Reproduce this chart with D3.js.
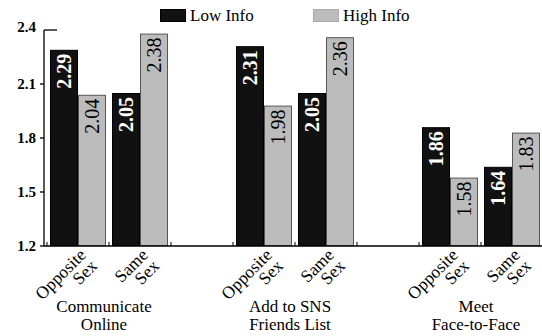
<!DOCTYPE html>
<html><head><meta charset="utf-8">
<script src="https://cdn.jsdelivr.net/npm/d3@7"></script>
<style>
html,body{margin:0;padding:0;background:#fff;}
svg{display:block;}
text{font-family:"Liberation Serif","Times New Roman",Times,serif;}
</style></head>
<body><svg id="chart" width="542" height="336"></svg>
<script>
const groups = [["Communicate","Online"],["Add to SNS","Friends List"],["Meet","Face-to-Face"]];
const subgroups = [["Opposite","Sex"],["Same","Sex"]];
const series = ["Low Info","High Info"];
const lowInfo  = [2.29, 2.05, 2.31, 2.05, 1.86, 1.64];
const highInfo = [2.04, 2.38, 1.98, 2.36, 1.58, 1.83];
const yTicks = [1.2, 1.5, 1.8, 2.1, 2.4];
const colors = ["#111111", "#bcbcbc"];
const strokes = ["#000000", "#555555"];

const svg = d3.select("#chart");
const y = d3.scaleLinear().domain([1.2, 2.4]).range([246, 30]);

// slots: 2 subgroups per group + 1 blank between groups
const slots = [];
groups.forEach((g, gi) => {
  subgroups.forEach((s, si) => slots.push("g" + gi + "s" + si));
  if (gi < groups.length - 1) slots.push("gap" + gi);
});
const x = d3.scaleBand().domain(slots).range([47, 543]).padding(0);
const x1 = d3.scaleBand().domain(series).range([3, x.bandwidth() - 3]).padding(0);

// data rows
const rows = [];
groups.forEach((g, gi) => subgroups.forEach((s, si) => {
  const i = gi * subgroups.length + si;
  rows.push({slot: "g" + gi + "s" + si, vals: [lowInfo[i], highInfo[i]]});
}));

// bars
rows.forEach(r => {
  r.vals.forEach((v, k) => {
    const bx = x(r.slot) + x1(series[k]);
    svg.append("rect")
      .attr("x", bx + 0.5).attr("y", y(v) + 0.5)
      .attr("width", x1.bandwidth() - 1).attr("height", y(1.2) - y(v) - 1)
      .attr("fill", colors[k]).attr("stroke", strokes[k]).attr("stroke-width", 1);
    svg.append("text")
      .attr("transform", `translate(${bx + x1.bandwidth() / 2},${y(v) + 4}) rotate(-90)`)
      .attr("text-anchor", "end").attr("dy", "0.35em")
      .attr("font-size", 20)
      .attr("font-weight", k === 0 ? "bold" : "normal")
      .attr("fill", k === 0 ? "#fff" : "#000")
      .text(v.toFixed(2));
  });
});

// y axis
svg.append("line").attr("x1", 44).attr("x2", 44).attr("y1", y(2.4)).attr("y2", y(1.2))
  .attr("stroke", "#000").attr("stroke-width", 1.3);
yTicks.forEach(t => {
  const ty = y(t);
  if (t === 2.4) {
    svg.append("line").attr("x1", 44).attr("x2", 57).attr("y1", ty).attr("y2", ty).attr("stroke", "#000").attr("stroke-width", 1.3);
  } else {
    svg.append("line").attr("x1", 40).attr("x2", 44).attr("y1", ty).attr("y2", ty).attr("stroke", "#000").attr("stroke-width", 1.3);
  }
  svg.append("text").attr("x", 36).attr("y", ty - (t === 2.4 ? 3 : 0)).attr("dy", "0.35em")
    .attr("text-anchor", "end").attr("font-size", 15).attr("font-weight", "bold")
    .text(t.toFixed(1));
});

// x axis
svg.append("line").attr("x1", 44).attr("x2", 543).attr("y1", y(1.2)).attr("y2", y(1.2))
  .attr("stroke", "#000").attr("stroke-width", 1.3);
slots.concat(["end"]).forEach((s, i) => {
  const tx = 47 + i * x.step();
  svg.append("line").attr("x1", tx).attr("x2", tx).attr("y1", y(1.2)).attr("y2", y(1.2) - 4)
    .attr("stroke", "#000").attr("stroke-width", 1);
});

// subgroup labels
rows.forEach((r, i) => {
  const lab = subgroups[i % subgroups.length];
  const cx = x(r.slot) + x.bandwidth() / 2;
  const t = svg.append("text")
    .attr("transform", `translate(${cx + 9},${y(1.2) + 10}) rotate(-45)`)
    .attr("text-anchor", "end").attr("font-size", 17.5);
  t.append("tspan").attr("x", 0).attr("dy", 0).text(lab[0]);
  t.append("tspan").attr("x", 0).attr("dy", "0.9em").text(lab[1]);
});

// group labels
groups.forEach((g, gi) => {
  const cx = x("g" + gi + "s1") - 5;
  const t = svg.append("text").attr("text-anchor", "middle").attr("font-size", 17);
  t.append("tspan").attr("x", cx).attr("y", 311.5).text(g[0]);
  t.append("tspan").attr("x", cx).attr("y", 330).text(g[1]);
});

// legend
const legX = [160, 313];
series.forEach((s, k) => {
  svg.append("rect").attr("x", legX[k] + 0.5).attr("y", 9.5).attr("width", 25).attr("height", 12)
    .attr("fill", colors[k]).attr("stroke", k === 0 ? "#000" : "#aaa");
  svg.append("text").attr("x", legX[k] + 30).attr("y", 21).attr("font-size", 17).text(s);
});
</script></body></html>
